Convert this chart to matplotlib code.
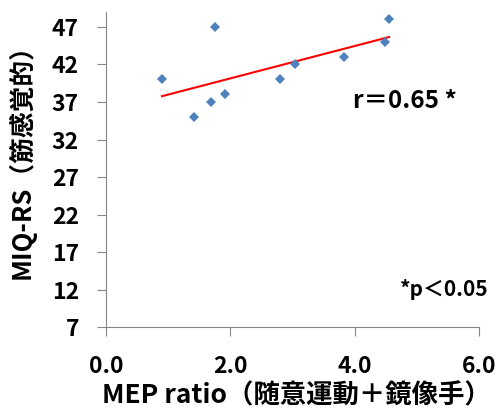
import numpy as np
import matplotlib
matplotlib.use("Agg")
import matplotlib.pyplot as plt

# values
mep_ratio = [0.90, 1.42, 1.68, 1.75, 1.91, 2.79, 3.04, 3.82, 4.48, 4.55]
miq_rs = [40, 35, 37, 47, 38, 40, 42, 43, 45, 48]
x_ticks = [0.0, 2.0, 4.0, 6.0]
y_ticks = [7, 12, 17, 22, 27, 32, 37, 42, 47]

plt.rcParams['font.family'] = ['Noto Sans CJK JP', 'DejaVu Sans']

fig = plt.figure(figsize=(4.96, 4.12), dpi=100)
ax = fig.add_axes([0.2137, 0.2051, 0.7526, 0.7665])

ax.plot(mep_ratio, miq_rs, linestyle='none', marker='D', markersize=4.6,
        markeredgewidth=0, color='#4F81BD', zorder=3)

# linear trend line over the data range
slope, intercept = np.polyfit(mep_ratio, miq_rs, 1)
xs = np.array([min(mep_ratio), max(mep_ratio)])
ax.plot(xs, slope * xs + intercept, color='#FF0000', linewidth=1.5, zorder=2)

ax.set_xlim(0, 6)
ax.set_ylim(7, 49)
ax.set_xticks(x_ticks)
ax.set_xticklabels([f"{v:.1f}" for v in x_ticks])
ax.set_yticks(y_ticks)

for s in ['top', 'right']:
    ax.spines[s].set_visible(False)
for s in ['left', 'bottom']:
    ax.spines[s].set_color('#868686')
    ax.spines[s].set_linewidth(0.8)

ax.tick_params(axis='both', direction='out', length=6.5, width=0.8,
               color='#868686', labelsize=16.5, pad=13)
for lab in ax.get_xticklabels() + ax.get_yticklabels():
    lab.set_fontweight('bold')

ax.set_xlabel('MEP ratio（随意運動＋鏡像手）', fontsize=19, fontweight='bold',
              va='center')
ax.xaxis.set_label_coords(0.51, -0.217)
ax.set_ylabel('MIQ-RS（筋感覚的）', fontsize=18.5, fontweight='bold',
              va='center')
ax.yaxis.set_label_coords(-0.225, 0.546)

ax.text(4.81, 37.1, 'r＝0.65 *', fontsize=17.5, fontweight='bold',
        ha='center', va='center')
ax.text(5.43, 12.1, '*p＜0.05', fontsize=15, fontweight='bold',
        ha='center', va='center')

fig.savefig('out.png', dpi=100)
